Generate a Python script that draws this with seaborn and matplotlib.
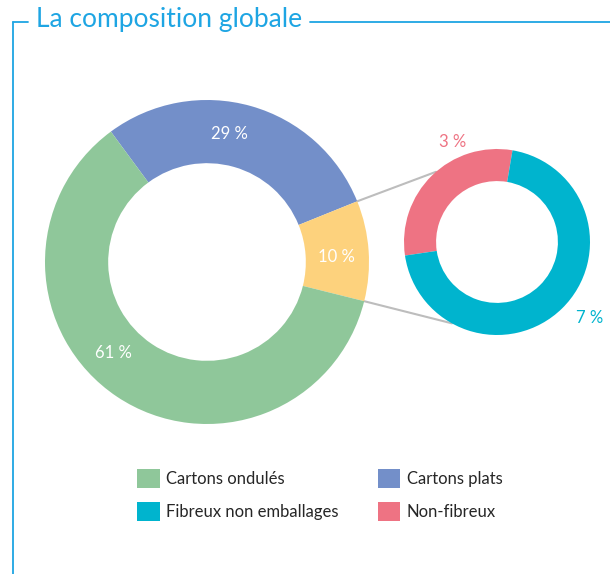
import numpy as np
import seaborn as sns
import matplotlib.pyplot as plt
from matplotlib.patches import Patch

# Data
main_labels = ['Cartons plats', 'Non-cartons', 'Cartons ondulés']
main_values = [29, 10, 61]
main_colors = ['#738fc9', '#fdd27d', '#8fc79a']

sub_labels = ['Non-fibreux', 'Fibreux non emballages']
sub_values = [3, 7]
sub_colors = ['#ee7383', '#00b4ce']

legend_labels = ['Cartons ondulés', 'Fibreux non emballages', 'Cartons plats', 'Non-fibreux']
legend_colors = ['#8fc79a', '#00b4ce', '#738fc9', '#ee7383']

title_color = '#1ea5e3'

sns.set_theme(style='white')
plt.rcParams['font.family'] = ['Lato', 'DejaVu Sans']

fig = plt.figure(figsize=(6.1, 5.74), dpi=100)
ax = fig.add_axes([0, 0, 1, 1])

# main donut
main_c = (207, 312)
main_r = 162
main_start = 126.4
ax.pie(main_values, colors=main_colors, startangle=main_start, counterclock=False,
       center=main_c, radius=main_r, wedgeprops=dict(width=main_r * 0.39, linewidth=0),
       frame=True)

# labels in the ring (nudged a little towards the top of each slice)
ang = main_start
for v, shift in zip(main_values, [6, -2, -12]):
    span = v / sum(main_values) * 360
    mid = np.deg2rad(ang - span / 2 + shift)
    ang -= span
    ax.text(main_c[0] + 130 * np.cos(mid), main_c[1] + 130 * np.sin(mid), f'{v} %',
            color='white', fontsize=12, ha='center', va='center')

# small donut
sub_c = (497, 332)
sub_r = 93
sub_start = 80.4
ax.pie(sub_values, colors=sub_colors, startangle=sub_start, counterclock=True,
       center=sub_c, radius=sub_r, wedgeprops=dict(width=sub_r * 0.345, linewidth=0),
       frame=True)

ax.text(453, 574 - 142, f'{sub_values[0]} %', color=sub_colors[0], fontsize=12,
        ha='center', va='center')
ax.text(590, 574 - 318, f'{sub_values[1]} %', color=sub_colors[1], fontsize=12,
        ha='center', va='center')

# connector lines from the 10 % slice to the small donut
a_top = np.deg2rad(main_start - main_values[0] / sum(main_values) * 360)
a_bot = np.deg2rad(main_start - sum(main_values[:2]) / sum(main_values) * 360)
for a_main, a_sub in [(a_top, np.deg2rad(131)), (a_bot, np.deg2rad(241))]:
    ax.plot([main_c[0] + main_r * np.cos(a_main), sub_c[0] + sub_r * np.cos(a_sub)],
            [main_c[1] + main_r * np.sin(a_main), sub_c[1] + sub_r * np.sin(a_sub)],
            color='#bdbdbd', lw=1.5, zorder=0)

# title and frame
ax.text(36, 574 - 20, 'La composition globale', color=title_color, fontsize=19,
        ha='left', va='center')
ax.plot([13, 28], [574 - 22, 574 - 22], color=title_color, lw=1.3)
ax.plot([310, 610], [574 - 22, 574 - 22], color=title_color, lw=1.3)
ax.plot([13, 13], [574 - 22, 0], color=title_color, lw=1.3)

ax.set_xlim(0, 610)
ax.set_ylim(0, 574)
ax.set_aspect('equal')
ax.axis('off')

# legend
handles = [Patch(facecolor=c, edgecolor='none') for c in legend_colors]
fig.legend(handles, legend_labels, ncol=2, loc='upper left',
           bbox_to_anchor=(137 / 610, 1 - 469 / 574), frameon=False, fontsize=12,
           handlelength=1.35, handleheight=1.35, handletextpad=0.4,
           columnspacing=2.35, labelspacing=0.85, borderpad=0, borderaxespad=0)

plt.savefig('out.png', dpi=100)
